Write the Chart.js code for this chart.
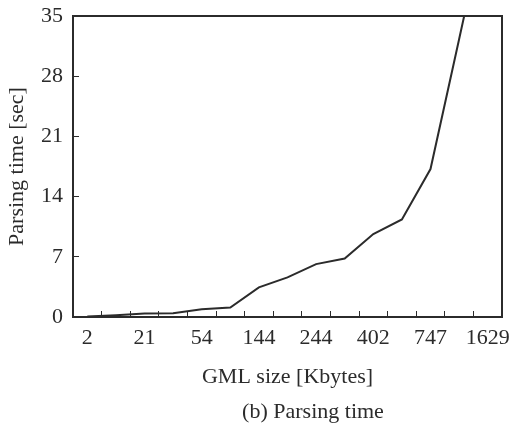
<!DOCTYPE html>
<html>
<head>
<meta charset="utf-8">
<script src="https://cdn.jsdelivr.net/npm/chart.js@4/dist/chart.umd.min.js"></script>
<style>
    html, body { margin: 0; padding: 0; background: #fff; }
    #wrap { position: relative; width: 513px; height: 423px; }
    #caption {
        position: absolute; left: 313px; top: 399px;
        transform: translateX(-50%);
        font: 22px "Liberation Serif", "Times New Roman", serif;
        line-height: 24px; color: #2b2b2b; white-space: nowrap;
    }
</style>
</head>
<body>
<div id="wrap">
    <canvas id="myChart" width="513" height="423"></canvas>
    <div id="caption">(b) Parsing time</div>
</div>
<script>
// GML size [Kbytes] - only every other category carries a label in the original
const sizeLabels = ["2", "", "21", "", "54", "", "144", "", "244", "", "402", "", "747", "", "1629"]
// parsing time in seconds
const parseTime = [0.05, 0.2, 0.4, 0.45, 0.9, 1.1, 3.45, 4.6, 6.15, 6.8, 9.65, 11.35, 17.2, 32.3, 47.5]
const yTicks = [0, 7, 14, 21, 28, 35]

const ink = "#2b2b2b"
const serif = "'Liberation Serif', 'Times New Roman', serif"

// box around the plot area
const frame = {
    id: 'frame',
    afterDraw(chart) {
        const a = chart.chartArea
        const c = chart.ctx
        c.save()
        c.strokeStyle = ink
        c.lineWidth = 2
        c.strokeRect(a.left, a.top, a.right - a.left, a.bottom - a.top)
        c.restore()
    }
}

const ctx = document.getElementById('myChart')
let myChart = new Chart(ctx, {
    type: 'line',
    data: {
        labels: sizeLabels,
        datasets: [{
            label: 'Parsing time',
            data: parseTime,
            borderColor: ink,
            borderWidth: 2,
            pointRadius: 0,
            tension: 0
        }]
    },
    options: {
        responsive: false,
        animation: false,
        layout: { padding: { top: 16, right: 11, left: 0, bottom: 33 } },
        plugins: {
            legend: { display: false },
            tooltip: { enabled: false }
        },
        scales: {
            x: {
                offset: true,
                afterFit: (s) => { s.height = 73; s.paddingLeft = 0; s.paddingRight = 0 },
                grid: { offset: true, drawOnChartArea: false, tickLength: -6, color: ink, lineWidth: 1 },
                border: { color: ink, width: 2 },
                ticks: {
                    autoSkip: false, maxRotation: 0, padding: 14,
                    color: ink, font: { family: serif, size: 22 }
                },
                title: {
                    display: true, text: 'GML size [Kbytes]', color: ink,
                    font: { family: serif, size: 22 }, padding: { top: 0, bottom: 0 }
                }
            },
            y: {
                min: 0,
                max: 35,
                afterFit: (s) => { s.width = 73; s.paddingTop = 0; s.paddingBottom = 0 },
                afterBuildTicks: (s) => { s.ticks = yTicks.map(v => ({ value: v })) },
                grid: { drawOnChartArea: false, tickLength: -6, color: ink, lineWidth: 1 },
                border: { color: ink, width: 2 },
                ticks: {
                    padding: 16, color: ink,
                    font: { family: serif, size: 22 }
                },
                title: {
                    display: true, text: 'Parsing time [sec]', color: ink,
                    font: { family: serif, size: 22 }, padding: { top: 4, bottom: 0 }
                }
            }
        }
    },
    plugins: [frame]
})
</script>
</body>
</html>
